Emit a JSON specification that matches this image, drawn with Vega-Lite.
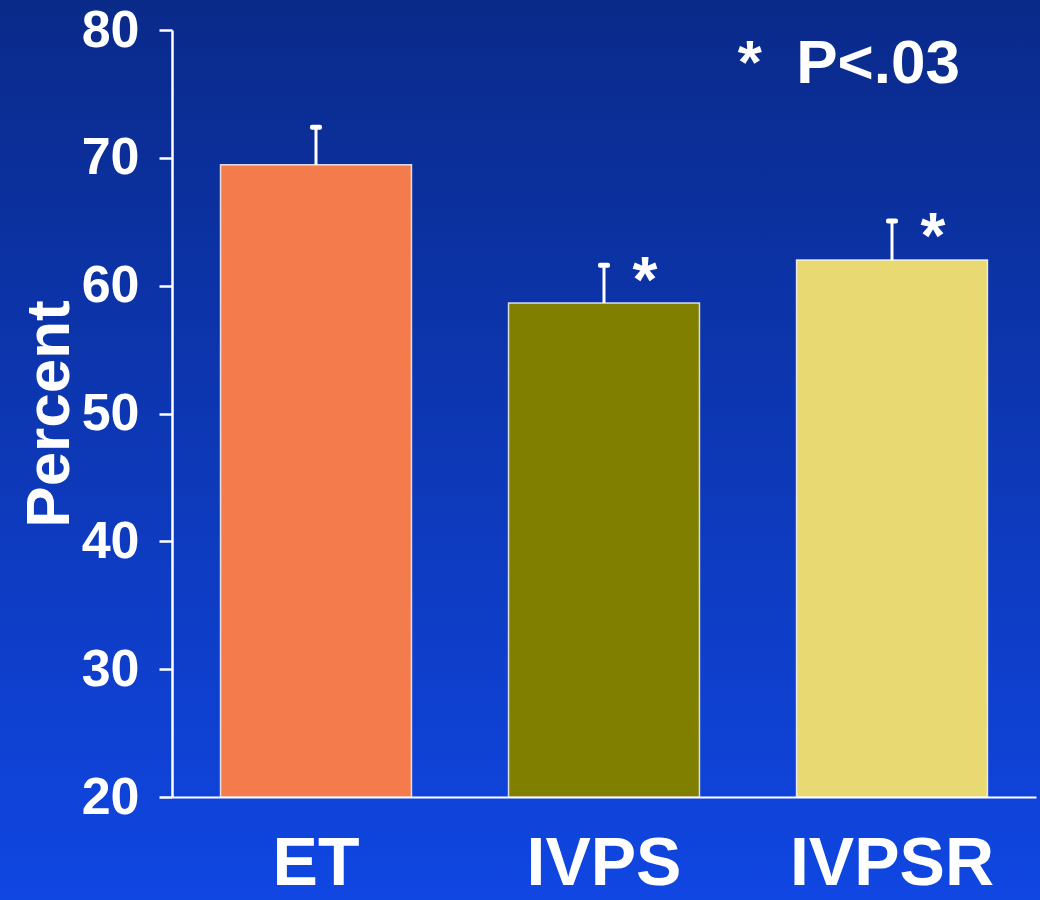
{
  "$schema": "https://vega.github.io/schema/vega-lite/v6.json",
  "width": 1040,
  "height": 900,
  "autosize": "none",
  "padding": 0,
  "background": "#0d38b5",
  "config": {
    "view": {
      "stroke": null,
      "fill": {
        "gradient": "linear",
        "x1": 0, "y1": 0, "x2": 0, "y2": 1,
        "stops": [
          {"offset": 0, "color": "#0a2a8a"},
          {"offset": 1, "color": "#1046e2"}
        ]
      }
    },
    "font": "Liberation Sans"
  },
  "data": {
    "values": [
      {"group": "ET", "value": 69.45, "err": 72.4, "sig": ""},
      {"group": "IVPS", "value": 58.65, "err": 61.6, "sig": "*"},
      {"group": "IVPSR", "value": 62.0, "err": 65.05, "sig": "*"}
    ]
  },
  "encoding": {
    "x": {
      "field": "group",
      "type": "nominal",
      "sort": ["ET", "IVPS", "IVPSR"],
      "scale": {"range": [172, 1036], "paddingInner": 0.337, "paddingOuter": 0.1685},
      "axis": {
        "title": null,
        "offset": -103,
        "labelAngle": 0,
        "labelFont": "Liberation Sans",
        "labelFontWeight": "bold",
        "labelFontSize": 68,
        "labelColor": "#ffffff",
        "labelBaseline": "alphabetic",
        "labelPadding": 87,
        "labelLimit": 0,
        "ticks": false,
        "domainColor": "#ffffff",
        "domainWidth": 2
      }
    }
  },
  "layer": [
    {
      "mark": {"type": "bar", "stroke": "#ffffff", "strokeWidth": 1.5, "strokeOpacity": 0.8},
      "encoding": {
        "y": {
          "field": "value",
          "type": "quantitative",
          "scale": {"domain": [20, 80], "range": [797, 30], "zero": false, "nice": false},
          "axis": {
            "title": "Percent",
            "offset": -172,
            "values": [20, 30, 40, 50, 60, 70, 80],
            "grid": false,
            "labelFont": "Liberation Sans",
            "labelFontWeight": "bold",
            "labelFontSize": 52,
            "labelColor": "#ffffff",
            "labelPadding": 20,
            "labelBaseline": "middle",
            "tickSize": 13,
            "tickColor": "#ffffff",
            "tickWidth": 2.5,
            "domainColor": "#ffffff",
            "domainWidth": 2.5,
            "titleFont": "Liberation Sans",
            "titleFontWeight": "bold",
            "titleFontSize": 62,
            "titleColor": "#ffffff",
            "titleBaseline": "alphabetic",
            "titleX": -104
          }
        },
        "y2": {"datum": 20},
        "color": {
          "field": "group",
          "type": "nominal",
          "scale": {"domain": ["ET", "IVPS", "IVPSR"], "range": ["#f47c4c", "#807f00", "#e8d972"]},
          "legend": null
        }
      }
    },
    {
      "mark": {"type": "rule", "color": "#ffffff", "strokeWidth": 3},
      "encoding": {
        "y": {"field": "value", "type": "quantitative"},
        "y2": {"field": "err"}
      }
    },
    {
      "mark": {"type": "tick", "color": "#ffffff", "thickness": 5, "size": 12, "cornerRadius": 2, "opacity": 1},
      "encoding": {
        "y": {"field": "err", "type": "quantitative"}
      }
    },
    {
      "transform": [{"filter": "datum.sig === '*'"}],
      "mark": {"type": "text", "color": "#ffffff", "font": "Liberation Sans", "fontWeight": "bold", "fontSize": 64, "dx": 41, "dy": 37, "baseline": "alphabetic", "align": "center"},
      "encoding": {
        "y": {"field": "err", "type": "quantitative"},
        "text": {"field": "sig"}
      }
    },
    {
      "data": {"values": [{"note": "*\u00a0\u00a0P<.03"}]},
      "mark": {"type": "text", "color": "#ffffff", "font": "Liberation Sans", "fontWeight": "bold", "fontSize": 62, "align": "right", "baseline": "alphabetic", "dx": 68},
      "encoding": {
        "x": {"datum": "IVPSR"},
        "y": {"datum": 75.86},
        "text": {"field": "note"}
      }
    }
  ]
}
